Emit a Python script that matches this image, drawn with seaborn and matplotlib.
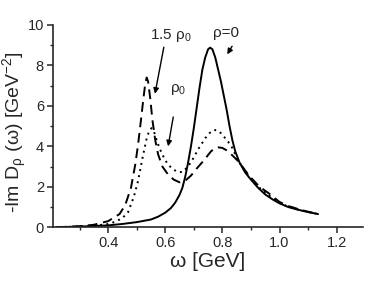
import numpy as np
import pandas as pd
import matplotlib
matplotlib.use("Agg")
import matplotlib.pyplot as plt
from matplotlib.ticker import MultipleLocator
import seaborn as sns

# ---- data ----
W_VAC = [0.22, 0.30, 0.40, 0.45, 0.50, 0.55, 0.575, 0.60, 0.62, 0.635, 0.65,
         0.66, 0.67, 0.68, 0.69, 0.70, 0.71, 0.72, 0.73, 0.74, 0.75, 0.757,
         0.765, 0.775, 0.785, 0.795, 0.805, 0.815, 0.825, 0.835, 0.845, 0.86,
         0.88, 0.90, 0.925, 0.95, 0.975, 1.00, 1.03, 1.06, 1.09, 1.135]
IM_VAC = [0.0, 0.03, 0.09, 0.16, 0.25, 0.38, 0.52, 0.72, 0.95, 1.22, 1.6,
          1.95, 2.5, 3.2, 4.0, 4.9, 5.9, 6.9, 7.8, 8.4, 8.8, 8.88,
          8.8, 8.4, 7.8, 7.2, 6.5, 5.8, 5.0, 4.3, 3.75, 3.2,
          2.7, 2.35, 1.95, 1.62, 1.38, 1.18, 1.0, 0.88, 0.78, 0.65]

W_RHO0 = [0.22, 0.30, 0.35, 0.40, 0.425, 0.45, 0.47, 0.49, 0.505, 0.52, 0.535,
          0.545, 0.552, 0.56, 0.57, 0.58, 0.60, 0.62, 0.64, 0.66, 0.68, 0.70,
          0.715, 0.74, 0.755, 0.768, 0.78, 0.795, 0.81, 0.83, 0.855, 0.88, 0.90,
          0.93, 0.96, 1.00, 1.03, 1.06, 1.09, 1.135]
IM_RHO0 = [0.0, 0.03, 0.07, 0.16, 0.27, 0.45, 0.75, 1.5, 2.3, 3.4, 4.4,
           4.8, 4.9, 4.75, 4.3, 3.9, 3.3, 2.95, 2.75, 2.72, 3.0, 3.45,
           3.85, 4.4, 4.65, 4.8, 4.8, 4.65, 4.4, 4.05, 3.3, 2.75, 2.4,
           1.95, 1.6, 1.2, 1.02, 0.9, 0.78, 0.65]

W_RHO15 = [0.22, 0.30, 0.35, 0.40, 0.44, 0.46, 0.48, 0.495, 0.505, 0.515, 0.523,
           0.53, 0.535, 0.54, 0.548, 0.555, 0.565, 0.575, 0.59, 0.61, 0.63, 0.65,
           0.67, 0.69, 0.71, 0.735, 0.76, 0.775, 0.785, 0.80, 0.815, 0.835, 0.86,
           0.88, 0.90, 0.93, 0.96, 1.00, 1.03, 1.06, 1.09, 1.135]
IM_RHO15 = [0.0, 0.05, 0.12, 0.3, 0.65, 1.1, 1.95, 3.1, 4.1, 5.3, 6.3,
            7.1, 7.4, 7.2, 6.3, 5.3, 4.3, 3.6, 3.0, 2.6, 2.35, 2.22,
            2.3, 2.55, 2.9, 3.3, 3.75, 3.92, 3.95, 3.92, 3.8, 3.55, 3.2,
            2.8, 2.45, 2.0, 1.7, 1.25, 1.05, 0.92, 0.8, 0.65]

df = pd.concat([
    pd.DataFrame({"w": W_VAC, "im": IM_VAC, "dens": "0"}),
    pd.DataFrame({"w": W_RHO0, "im": IM_RHO0, "dens": "rho0"}),
    pd.DataFrame({"w": W_RHO15, "im": IM_RHO15, "dens": "1.5rho0"}),
], ignore_index=True)

sns.set_style("ticks")
plt.rcParams.update({
    "font.family": ["Liberation Sans", "DejaVu Sans"],
    "mathtext.default": "regular",
    "axes.linewidth": 1.2,
    "xtick.direction": "out",
    "ytick.direction": "out",
    "xtick.major.size": 4.5,
    "ytick.major.size": 4.5,
    "xtick.minor.size": 2.5,
    "ytick.minor.size": 2.5,
    "xtick.major.width": 1.1,
    "ytick.major.width": 1.1,
    "xtick.minor.width": 1.0,
    "ytick.minor.width": 1.0,
})

fig = plt.figure(figsize=(3.68, 2.84), dpi=100)
ax = fig.add_axes([0.144, 0.2, 0.843, 0.712])

sns.lineplot(data=df, x="w", y="im", style="dens", color="black",
             dashes={"0": "", "rho0": (1, 2.2), "1.5rho0": (5, 3)},
             estimator=None, sort=False, linewidth=1.4, legend=False, ax=ax)

ax.set_xlim(0.207, 1.293)
ax.set_ylim(0, 10)
ax.xaxis.set_minor_locator(MultipleLocator(0.1))
ax.yaxis.set_major_locator(MultipleLocator(2))
ax.yaxis.set_minor_locator(MultipleLocator(1))
ax.set_xticks([0.4, 0.6, 0.8, 1.0, 1.2])
ax.set_xticklabels(["0.4", "0.6", "0.8", "1.0", "1.2"])
ax.tick_params(labelsize=10.5, pad=2)
sns.despine(ax=ax)

ax.set_xlabel("ω [GeV]", fontsize=15, labelpad=1)
ax.set_ylabel("-Im D$_{ρ}$ (ω) [GeV$^{ -2}$]", fontsize=14)
ax.yaxis.set_label_coords(-0.078, 0.47)

# annotations
ax.text(0.548, 9.5, "1.5 ρ$_0$", fontsize=11, va="center")
ax.text(0.617, 6.8, "ρ$_0$", fontsize=11, va="center")
ax.text(0.766, 9.6, "ρ=0", fontsize=11, va="center")
arrow = dict(arrowstyle="-|>", color="black", lw=1.0, mutation_scale=8,
             shrinkA=0, shrinkB=0)
ax.annotate("", xy=(0.564, 6.6), xytext=(0.595, 8.9), arrowprops=arrow)
ax.annotate("", xy=(0.61, 4.0), xytext=(0.628, 5.45), arrowprops=arrow)
ax.annotate("", xy=(0.817, 8.55), xytext=(0.834, 8.95), arrowprops=arrow)

fig.savefig("out.png", dpi=100)
